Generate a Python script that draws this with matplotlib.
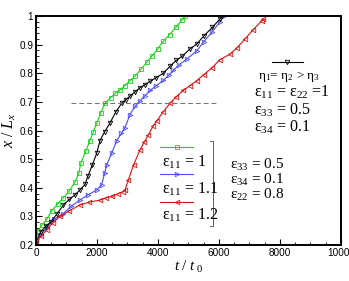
import numpy as np
import matplotlib
matplotlib.use("Agg")
import matplotlib.pyplot as plt
from matplotlib.lines import Line2D
from matplotlib.ticker import MultipleLocator

plt.rcParams['mathtext.fontset'] = 'custom'
plt.rcParams['mathtext.rm'] = 'Liberation Serif'
plt.rcParams['mathtext.it'] = 'Liberation Serif:italic'

# ---------- data ----------
t_green = [0, 60, 200, 350, 520, 720, 900, 1100, 1280, 1400, 1470, 1640, 1770, 1880, 1990,
           2120, 2260, 2450, 2600, 2760, 2920, 3080, 3250, 3450, 3630, 3800, 3990, 4175,
           4380, 4600, 4780, 4900]
x_green = [0.21, 0.25, 0.27, 0.29, 0.32, 0.345, 0.365, 0.39, 0.42, 0.45, 0.485, 0.53, 0.565,
           0.595, 0.625, 0.66, 0.695, 0.715, 0.73, 0.742, 0.757, 0.774, 0.79, 0.815, 0.838,
           0.86, 0.885, 0.912, 0.935, 0.962, 0.985, 1.0]

t_black = [0, 150, 320, 480, 700, 900, 1100, 1280, 1440, 1610, 1700, 1850, 1990, 2100, 2250,
           2430, 2620, 2810, 2950, 3080, 3250, 3420, 3580, 3740, 3950, 4175, 4400, 4600, 4800,
           5050, 5270, 5500, 5780, 6035, 6100]
x_black = [0.21, 0.245, 0.265, 0.28, 0.31, 0.34, 0.36, 0.375, 0.392, 0.412, 0.44, 0.48, 0.52,
           0.565, 0.595, 0.627, 0.665, 0.695, 0.708, 0.72, 0.735, 0.75, 0.76, 0.772, 0.785,
           0.80, 0.825, 0.845, 0.86, 0.885, 0.902, 0.93, 0.96, 0.99, 1.0]

t_blue = [0, 150, 350, 600, 900, 1150, 1440, 1700, 1990, 2150, 2250, 2320, 2480, 2650, 2800,
          2920, 3080, 3250, 3410, 3580, 3740, 3950, 4175, 4350, 4500, 4700, 4950, 5270, 5500,
          5780, 6035, 6150]
x_blue = [0.21, 0.235, 0.262, 0.29, 0.31, 0.335, 0.357, 0.375, 0.392, 0.41, 0.45, 0.48, 0.52,
          0.565, 0.59, 0.61, 0.655, 0.685, 0.703, 0.722, 0.74, 0.757, 0.775, 0.793, 0.81,
          0.83, 0.85, 0.878, 0.91, 0.945, 0.98, 1.0]

t_red = [0, 150, 350, 550, 790, 1100, 1440, 1750, 2100, 2300, 2500, 2700, 2850, 2920, 3030,
         3200, 3410, 3550, 3680, 3850, 3960, 4170, 4395, 4600, 4830, 5050, 5270, 5500, 5780,
         6035, 6365, 6600, 6855, 7100, 7400, 7450]
x_red = [0.21, 0.23, 0.252, 0.278, 0.30, 0.32, 0.34, 0.35, 0.357, 0.365, 0.37, 0.38, 0.386,
         0.392, 0.427, 0.48, 0.532, 0.56, 0.584, 0.617, 0.634, 0.665, 0.695, 0.718, 0.74,
         0.757, 0.774, 0.795, 0.82, 0.848, 0.867, 0.89, 0.92, 0.95, 0.983, 0.99]

dash_t = [1150, 5970]
dash_x = [0.695, 0.695]

# ---------- plot ----------
fig = plt.figure(figsize=(3.49, 2.81), dpi=100)
ax = fig.add_axes([0.103, 0.128, 0.874, 0.815])

c_green = '#19d219'
c_blue = '#4a4aff'
c_red = '#e01010'
c_black = '#000000'

mk = dict(markersize=3.2, markerfacecolor='none', markeredgewidth=0.6, linewidth=0.8)
ax.plot(t_green, x_green, color=c_green, marker='s', **mk)
ax.plot(t_blue, x_blue, color=c_blue, marker='>', **mk)
ax.plot(t_black, x_black, color=c_black, marker='v', **mk)
ax.plot(t_red, x_red, color=c_red, marker='<', **mk)
ax.plot(dash_t, dash_x, color='#707070', linestyle=(0, (5, 3)), linewidth=0.7)

ax.set_xlim(0, 10000)
ax.set_ylim(0.2, 1.0)
ax.xaxis.set_minor_locator(MultipleLocator(500))
ax.yaxis.set_minor_locator(MultipleLocator(0.02))
ax.set_yticks(np.arange(0.2, 1.01, 0.1))
ax.set_yticklabels(['0.2', '0.3', '0.4', '0.5', '0.6', '0.7', '0.8', '0.9', '1'])
ax.set_xticks([0, 2000, 4000, 6000, 8000, 10000])
ax.set_xticklabels(['0', '2000', '4000', '6000', '8000', '10000'])
ax.tick_params(which='both', direction='in', labelsize=7.2, pad=2)
ax.tick_params(which='major', length=4, width=0.8)
ax.tick_params(which='minor', length=2, width=0.6)
for lab in ax.get_xticklabels() + ax.get_yticklabels():
    lab.set_family('Liberation Sans')
for s in ax.spines.values():
    s.set_linewidth(1.4)

ax.set_xlabel('$t\\ /\\ t_{\\ 0}$', fontsize=11, labelpad=1)
ax.set_ylabel('$x\\ /\\ L_x$', fontsize=11.5, labelpad=1)

# ---------- legend (manual) ----------
tr = ax.transAxes
serif = 'Liberation Serif'
leg = [(c_green, 's', 0.428, 0.362, '= 1'),
       (c_blue, '>', 0.31, 0.245, '= 1.1'),
       (c_red, '<', 0.188, 0.131, '= 1.2')]
for col, m, ly, ty, val in leg:
    ax.add_line(Line2D([0.407, 0.515], [ly, ly], transform=tr, color=col, linewidth=0.8))
    ax.add_line(Line2D([0.461], [ly], transform=tr, color=col, marker=m,
                       markersize=3.2, markerfacecolor='none', markeredgewidth=0.6))
    ax.text(0.413, ty, 'ε$_{11}$ ' + val, transform=tr, fontsize=11.5, family=serif,
            va='center', ha='left')
ax.add_line(Line2D([0.570, 0.580, 0.580, 0.570], [0.454, 0.454, 0.083, 0.083],
                   transform=tr, color='#606060', linewidth=0.7))

ax.add_line(Line2D([0.774, 0.875], [0.799, 0.799], transform=tr, color=c_black, linewidth=0.8))
ax.add_line(Line2D([0.824], [0.799], transform=tr, color=c_black, marker='v',
                   markersize=3.2, markerfacecolor='none', markeredgewidth=0.6))
ax.text(0.728, 0.734, 'η$_1$= η$_2$ > η$_3$', transform=tr, fontsize=9.5, family=serif,
        va='center', ha='left')
ax.text(0.715, 0.668, 'ε$_{11}$ = ε$_{22}$ =1', transform=tr, fontsize=11.5, family=serif,
        va='center', ha='left')
ax.text(0.715, 0.59, 'ε$_{33}$ = 0.5', transform=tr, fontsize=11.5, family=serif,
        va='center', ha='left')
ax.text(0.715, 0.515, 'ε$_{34}$ = 0.1', transform=tr, fontsize=11.5, family=serif,
        va='center', ha='left')

ax.text(0.636, 0.349, 'ε$_{33}$ = 0.5', transform=tr, fontsize=11, family=serif,
        va='center', ha='left')
ax.text(0.636, 0.286, 'ε$_{34}$ = 0.1', transform=tr, fontsize=11, family=serif,
        va='center', ha='left')
ax.text(0.636, 0.218, 'ε$_{22}$ = 0.8', transform=tr, fontsize=11, family=serif,
        va='center', ha='left')

fig.savefig('out.png', dpi=100)
